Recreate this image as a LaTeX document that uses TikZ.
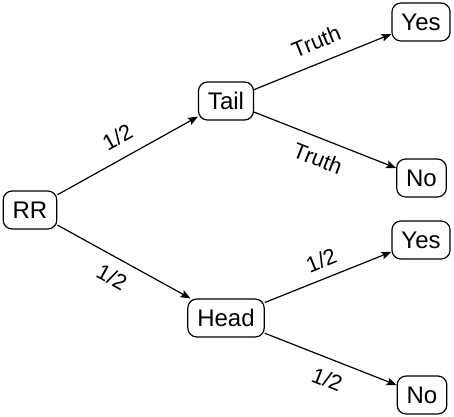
\documentclass[tikz,border=0pt]{standalone}
\usepackage{fontspec}
\setmainfont{Liberation Sans}
\usetikzlibrary{arrows.meta}
\begin{document}
\begin{tikzpicture}[x=1pt,y=-1pt,
  box/.style={draw, line width=1.2pt, rounded corners=9pt, inner xsep=9.5pt, minimum height=38pt, font=\fontsize{24}{28}\selectfont},
  conn/.style={line width=1.2pt, -{Stealth[length=10pt,width=8pt,inset=2pt]}},
  lab/.style={sloped, font=\fontsize{22}{26}\selectfont, inner sep=0pt}]
\useasboundingbox (0,0) rectangle (454,416);
\node[box] (rr) at (30,210) {RR};
\node[box] (tail) at (226,101) {Tail};
\node[box] (head) at (226,318) {Head};
\node[box] (yes1) at (421,22) {Yes};
\node[box] (no1) at (421.5,178) {No};
\node[box] (yes2) at (421,240) {Yes};
\node[box] (no2) at (422,395) {No};
\draw[conn] (rr) -- node[lab, above=12.4pt, pos=0.50] {1/2} (tail);
\draw[conn] (rr) -- node[lab, below=10.4pt, pos=0.48] {1/2} (head);
\draw[conn] (tail) -- node[lab, above=12.7pt, pos=0.51] {Truth} (yes1);
\draw[conn] (tail) -- node[lab, below=11pt, pos=0.50] {Truth} (no1);
\draw[conn] (head) -- node[lab, above=9.7pt, pos=0.50] {1/2} (yes2);
\draw[conn] (head) -- node[lab, below=11.5pt, pos=0.53] {1/2} (no2);
\end{tikzpicture}
\end{document}
